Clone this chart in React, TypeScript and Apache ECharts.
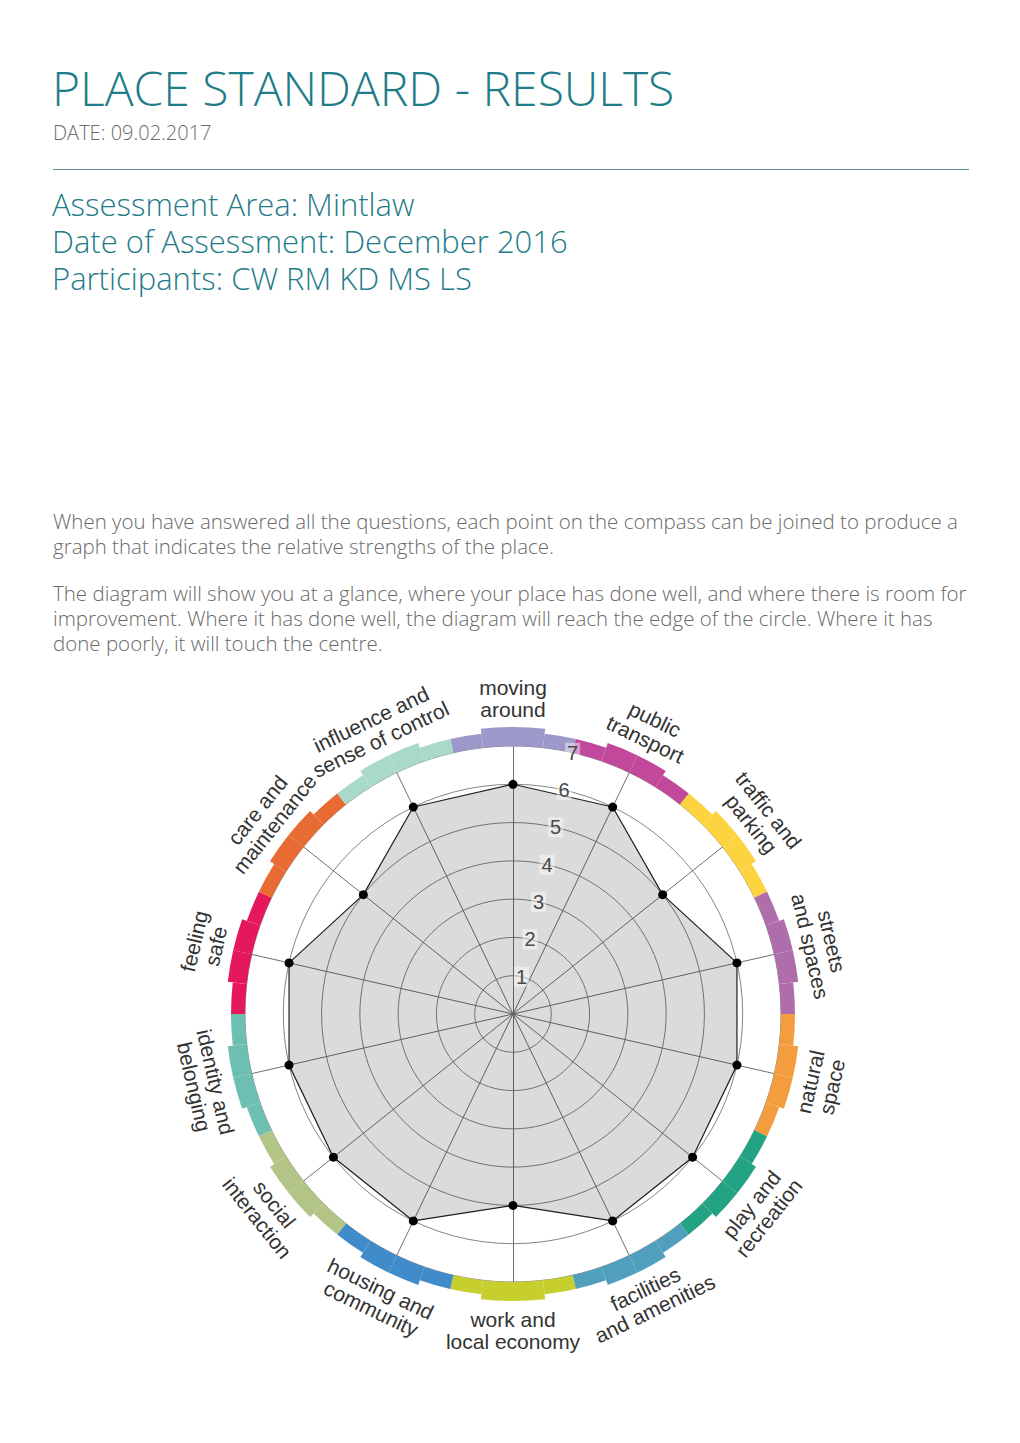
import React, { useEffect, useRef } from "react";
import * as echarts from "echarts";

// Categories clockwise from the top
const categories = [
  "moving around",
  "public transport",
  "traffic and parking",
  "streets and spaces",
  "natural space",
  "play and recreation",
  "facilities and amenities",
  "work and local economy",
  "housing and community",
  "social interaction",
  "identity and belonging",
  "feeling safe",
  "care and maintenance",
  "influence and sense of control",
];

const categoryLabels = [
  "moving\naround",
  "public\ntransport",
  "traffic and\nparking",
  "streets\nand spaces",
  "natural\nspace",
  "play and\nrecreation",
  "facilities\nand amenities",
  "work and\nlocal economy",
  "housing and\ncommunity",
  "social\ninteraction",
  "identity and\nbelonging",
  "feeling\nsafe",
  "care and\nmaintenance",
  "influence and\nsense of control",
];

const scores = [6, 6, 5, 6, 6, 6, 6, 5, 6, 6, 6, 6, 5, 6];

const bandColors = [
  "#9c99ca",
  "#c1489a",
  "#fdd43f",
  "#b06dab",
  "#f39d3e",
  "#22a384",
  "#4f9fbd",
  "#c7cf2f",
  "#408bc9",
  "#b3c487",
  "#6dc0b1",
  "#e5185e",
  "#e96b34",
  "#a9dac9",
];

// band thickness steps (in px) for each category, four sub-steps each
const bandSteps = [
  [14, 19, 19, 14],
  [14, 19, 19, 14],
  [14, 19, 19, 14],
  [14, 19, 19, 14],
  [14, 19, 19, 14],
  [14, 19, 19, 14],
  [14, 19, 19, 14],
  [14, 19, 19, 14],
  [14, 19, 19, 14],
  [14, 19, 19, 14],
  [14, 19, 19, 14],
  [14, 19, 19, 14],
  [14, 19, 19, 14],
  [14, 19, 19, 14],
];

const tickValues = [0, 1, 2, 3, 4, 5, 6, 7];
const maxScore = 7;

const title = "PLACE STANDARD - RESULTS";
const dateLine = "DATE: 09.02.2017";
const infoLines = [
  "Assessment Area: Mintlaw",
  "Date of Assessment: December 2016",
  "Participants: CW RM KD MS LS",
];
const para1 = [
  "When you have answered all the questions, each point on the compass can be joined to produce a",
  "graph that indicates the relative strengths of the place.",
];
const para2 = [
  "The diagram will show you at a glance, where your place has done well, and where there is room for",
  "improvement. Where it has done well, the diagram will reach the edge of the circle. Where it has",
  "done poorly, it will touch the centre.",
];

const TEAL = "#1f7c89";
const GREY = "#6a6a6a";
const OPEN = "'Open Sans', 'Noto Sans', sans-serif";

function Chart() {
  const ref = useRef<HTMLDivElement>(null);
  useEffect(() => {
    if (!ref.current) return;
    const chart = echarts.init(ref.current, null, { renderer: "svg" });
    const cx = 513;
    const cy = 354;
    const R = 268;
    const n = categories.length;
    const step = 360 / n;
    const radarOrder = [0, ...Array.from({ length: n - 1 }, (_, i) => n - 1 - i)];

    const bandCats: string[] = [];
    const bandBase: number[] = [];
    const bandData: any[] = [];
    categories.forEach((c, i) => {
      bandSteps[i].forEach((t, j) => {
        bandCats.push(c + "-" + j);
        bandBase.push(R);
        bandData.push({ value: t, itemStyle: { color: bandColors[i] } });
      });
    });

    const labelR = 316;
    const graphics = categoryLabels.map((txt, i) => {
      const theta = i * step; // clockwise from top, degrees
      const rad = (theta * Math.PI) / 180;
      const x = cx + labelR * Math.sin(rad);
      const y = cy - labelR * Math.cos(rad);
      const top = theta < 90 || theta > 270;
      const rotDeg = top ? -theta : 180 - theta;
      return {
        type: "text",
        x,
        y,
        rotation: (rotDeg * Math.PI) / 180,
        style: {
          text: txt,
          align: "center",
          verticalAlign: "middle",
          fontSize: 21,
          lineHeight: 22,
          fontFamily: "'Liberation Sans', Arial, sans-serif",
          fill: "#333",
        },
        z: 20,
      };
    });

    chart.setOption({
      animation: false,
      radar: {
        center: [cx, cy],
        radius: R,
        startAngle: 90,
        shape: "circle",
        splitNumber: maxScore,
        indicator: radarOrder.map((k) => ({ name: categories[k], min: 0, max: maxScore })),
        axisName: { show: false },
        splitArea: { show: false },
        splitLine: { lineStyle: { color: "#858585", width: 1 } },
        axisLine: { lineStyle: { color: "#707070", width: 1 } },
        axisTick: { show: false },
        axisLabel: { show: false },
      },
      polar: [
        { center: [cx, cy], radius: 300 },
        { center: [cx, cy], radius: R },
      ],
      angleAxis: [
        {
          polarIndex: 0,
          type: "category",
          data: bandCats,
          startAngle: 90 + step / 2,
          clockwise: true,
          axisLine: { show: false },
          axisTick: { show: false },
          axisLabel: { show: false },
          splitLine: { show: false },
        },
        {
          polarIndex: 1,
          type: "value",
          min: 0,
          max: 360,
          startAngle: 90 - step / 2,
          axisLine: { show: false },
          axisTick: { show: false },
          axisLabel: { show: false },
          splitLine: { show: false },
        },
      ],
      radiusAxis: [
        {
          polarIndex: 0,
          type: "value",
          min: 0,
          max: 300,
          axisLine: { show: false },
          axisTick: { show: false },
          axisLabel: { show: false },
          splitLine: { show: false },
        },
        {
          polarIndex: 1,
          type: "value",
          min: tickValues[0],
          max: tickValues[tickValues.length - 1],
          interval: 1,
          z: 10,
          axisLine: { show: false },
          axisTick: { show: false },
          splitLine: { show: false },
          axisLabel: {
            margin: 0,
            align: "center",
            verticalAlign: "middle",
            fontSize: 20,
            color: "#4a4a4a",
            fontFamily: "'Liberation Sans', Arial, sans-serif",
            backgroundColor: "rgba(255,255,255,0.45)",
            padding: [0, 2],
            formatter: (v: number) => (v === 0 ? "" : String(v)),
          },
        },
      ],
      graphic: graphics,
      series: [
        {
          type: "bar",
          coordinateSystem: "polar",
          polarIndex: 0,
          stack: "band",
          data: bandBase,
          itemStyle: { color: "rgba(0,0,0,0)" },
          barCategoryGap: "0%",
          silent: true,
        },
        {
          type: "bar",
          coordinateSystem: "polar",
          polarIndex: 0,
          stack: "band",
          data: bandData,
          barCategoryGap: "0%",
          silent: true,
        },
        {
          type: "radar",
          z: 3,
          symbol: "circle",
          symbolSize: 9,
          itemStyle: { color: "#000" },
          lineStyle: { color: "#222", width: 1.2 },
          areaStyle: { color: "rgba(0,0,0,0.2)" },
          data: [{ value: radarOrder.map((k) => scores[k]), name: "Mintlaw" }],
        },
      ],
    });
    return () => chart.dispose();
  }, []);
  return (
    <div
      ref={ref}
      style={{ position: "absolute", left: 0, top: 660, width: 1020, height: 720 }}
    />
  );
}

export default function App() {
  return (
    <div
      style={{
        position: "absolute",
        left: 0,
        top: 0,
        width: 1020,
        height: 1443,
        overflow: "hidden",
        background: "#fff",
        fontFamily: OPEN,
      }}
    >
      <div
        style={{
          position: "absolute",
          left: 52,
          top: 62,
          fontSize: 48,
          lineHeight: "52px",
          fontWeight: 300,
          color: TEAL,
          whiteSpace: "nowrap",
        }}
      >
        {title}
      </div>
      <div
        style={{
          position: "absolute",
          left: 53,
          top: 122,
          fontSize: 20,
          lineHeight: "22px",
          fontWeight: 300,
          color: GREY,
          whiteSpace: "nowrap",
        }}
      >
        {dateLine}
      </div>
      <div
        style={{
          position: "absolute",
          left: 53,
          top: 169,
          width: 916,
          height: 1,
          background: "#5e8f98",
        }}
      />
      <div
        style={{
          position: "absolute",
          left: 52,
          top: 186,
          fontSize: 31,
          lineHeight: "37px",
          fontWeight: 300,
          color: TEAL,
          whiteSpace: "pre",
        }}
      >
        {infoLines.join("\n")}
      </div>
      <div
        style={{
          position: "absolute",
          left: 53,
          top: 509,
          fontSize: 20.5,
          lineHeight: "25px",
          fontWeight: 300,
          color: GREY,
          whiteSpace: "pre",
        }}
      >
        {para1.join("\n")}
      </div>
      <div
        style={{
          position: "absolute",
          left: 53,
          top: 581,
          fontSize: 20.5,
          lineHeight: "25px",
          fontWeight: 300,
          color: GREY,
          whiteSpace: "pre",
        }}
      >
        {para2.join("\n")}
      </div>
      <Chart />
    </div>
  );
}
